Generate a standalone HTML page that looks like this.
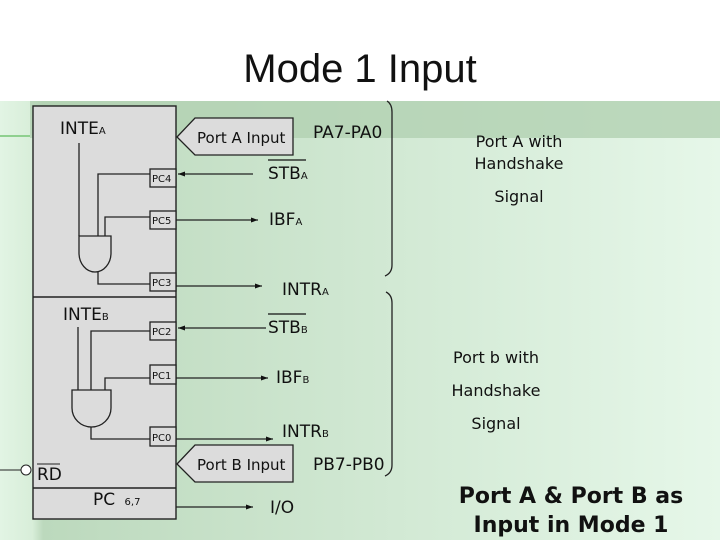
<!DOCTYPE html>
<html><head><style>
html,body{margin:0;padding:0;width:720px;height:540px;overflow:hidden;background:#fff}
svg{display:block}
text{font-family:"DejaVu Sans","Liberation Sans",sans-serif;fill:#111}
</style></head><body>
<svg width="720" height="540" viewBox="0 0 720 540" xmlns="http://www.w3.org/2000/svg">
<defs>
<linearGradient id="bg" x1="0" y1="0" x2="1" y2="0">
<stop offset="0" stop-color="#e2f4e4"/>
<stop offset="0.045" stop-color="#d8eed9"/>
<stop offset="0.06" stop-color="#bcd9bd"/>
<stop offset="0.55" stop-color="#d2e9d4"/>
<stop offset="1" stop-color="#e6f7e9"/>
</linearGradient>
<marker id="ar" markerWidth="8" markerHeight="8" refX="7" refY="4" orient="auto" markerUnits="userSpaceOnUse">
<path d="M0,1.5 L7,4 L0,6.5 Z" fill="#111"/></marker>
</defs>
<rect x="0" y="0" width="720" height="101" fill="#fff"/>
<rect x="0" y="101" width="720" height="439" fill="url(#bg)"/>
<rect x="30" y="101" width="690" height="37" fill="#b2d1b2" opacity="0.8"/>
<text x="360" y="82" text-anchor="middle" style="font-family:'Liberation Sans',sans-serif;font-size:40px">Mode 1 Input</text>
<line x1="0" y1="136" x2="30" y2="136" stroke="#8fd08f" stroke-width="2"/>

<rect x="33" y="106" width="143" height="413" fill="#dcdcdc" stroke="#222" stroke-width="1.4"/>
<line x1="33" y1="297" x2="176" y2="297" stroke="#222" stroke-width="1.4"/>
<line x1="33" y1="488" x2="176" y2="488" stroke="#222" stroke-width="1.4"/>

<g stroke="#222" stroke-width="1.3" fill="none">
<line x1="79" y1="143" x2="79" y2="236"/>
<polyline points="150,174 98,174 98,236"/>
<polyline points="150,217 105,217 105,236"/>
<path d="M79,236 H111 V253 A16,19 0 0 1 79,253 Z" fill="#dcdcdc"/>
<polyline points="98,272 98,284 150,284"/>
<line x1="78" y1="327" x2="78" y2="390"/>
<polyline points="150,331 91,331 91,390"/>
<polyline points="150,378 105,378 105,390"/>
<path d="M72,390 H111 V408 A19.5,19 0 0 1 72,408 Z" fill="#dcdcdc"/>
<polyline points="91,427 91,439 150,439"/>
</g>
<g fill="#dcdcdc" stroke="#222" stroke-width="1.3">
<rect x="150" y="169" width="26" height="18"/>
<rect x="150" y="211" width="26" height="18"/>
<rect x="150" y="273" width="26" height="18"/>
<rect x="150" y="322" width="26" height="18"/>
<rect x="150" y="365" width="26" height="19"/>
<rect x="150" y="427" width="26" height="19"/>
<path d="M177,137 L195,118 H293 V155 H195 Z"/>
<path d="M177,464 L195,445 H293 V482 H195 Z"/>
</g>
<g font-size="10">
<text x="152" y="182">PC4</text><text x="152" y="224">PC5</text><text x="152" y="286">PC3</text>
<text x="152" y="335">PC2</text><text x="152" y="379">PC1</text><text x="152" y="441">PC0</text>
</g>
<text x="60" y="134" font-size="17">INTE<tspan font-size="10">A</tspan></text>
<text x="63" y="320" font-size="17">INTE<tspan font-size="10">B</tspan></text>
<text x="37" y="480" font-size="17">RD</text>
<line x1="37" y1="464" x2="60" y2="464" stroke="#222" stroke-width="1"/>
<line x1="0" y1="470" x2="21" y2="470" stroke="#222" stroke-width="1"/>
<circle cx="26" cy="470" r="5" fill="#fff" stroke="#222" stroke-width="1"/>
<text x="93" y="505" font-size="17">PC <tspan font-size="10" dx="4">6,7</tspan></text>

<text x="197" y="143" font-size="15">Port A Input</text>
<text x="197" y="470" font-size="15">Port B Input</text>

<g stroke="#222" stroke-width="1.2">
<line x1="253" y1="174" x2="178" y2="174" marker-end="url(#ar)"/>
<line x1="176" y1="220" x2="258" y2="220" marker-end="url(#ar)"/>
<line x1="176" y1="286" x2="262" y2="286" marker-end="url(#ar)"/>
<line x1="266" y1="328" x2="178" y2="328" marker-end="url(#ar)"/>
<line x1="176" y1="378" x2="268" y2="378" marker-end="url(#ar)"/>
<line x1="176" y1="439" x2="273" y2="439" marker-end="url(#ar)"/>
<line x1="176" y1="507" x2="253" y2="507" marker-end="url(#ar)"/>
</g>
<g font-size="17">
<text x="313" y="138">PA7-PA0</text>
<text x="268" y="179">STB<tspan font-size="10">A</tspan></text>
<line x1="268" y1="160" x2="306" y2="160" stroke="#111" stroke-width="1.2"/>
<text x="269" y="225">IBF<tspan font-size="10">A</tspan></text>
<text x="282" y="295">INTR<tspan font-size="10">A</tspan></text>
<text x="268" y="333">STB<tspan font-size="10">B</tspan></text>
<line x1="268" y1="314" x2="306" y2="314" stroke="#111" stroke-width="1.2"/>
<text x="276" y="383">IBF<tspan font-size="10">B</tspan></text>
<text x="282" y="437">INTR<tspan font-size="10">B</tspan></text>
<text x="313" y="470">PB7-PB0</text>
<text x="270" y="513">I/O</text>
</g>
<g stroke="#222" stroke-width="1.3" fill="none">
<path d="M387,101 Q392,104 392,112 V265 Q392,273 385,276"/>
<path d="M386,292 Q392,295 392,303 V465 Q392,473 385,476"/>
</g>
<g font-size="16" text-anchor="middle">
<text x="519" y="147">Port A with</text>
<text x="519" y="169">Handshake</text>
<text x="519" y="202">Signal</text>
<text x="496" y="363">Port b with</text>
<text x="496" y="396">Handshake</text>
<text x="496" y="429">Signal</text>
</g>
<g font-size="22" font-weight="bold" text-anchor="middle">
<text x="571" y="503">Port A &amp; Port B as</text>
<text x="571" y="532">Input in Mode 1</text>
</g>
</svg>
</body></html>
